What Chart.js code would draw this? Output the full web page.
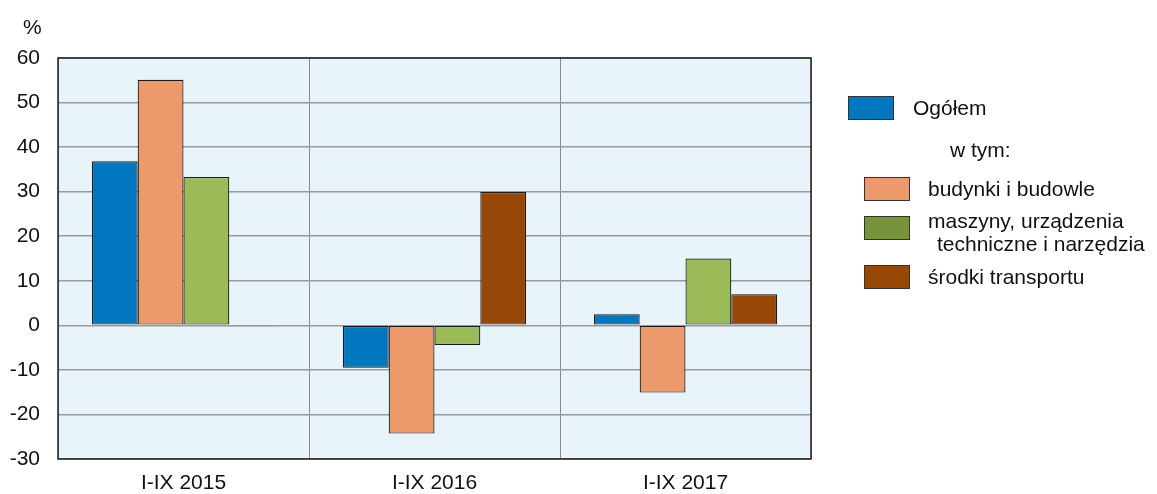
<!DOCTYPE html>
<html>
<head>
<meta charset="utf-8">
<script src="https://cdn.jsdelivr.net/npm/chart.js@4/dist/chart.umd.min.js"></script>
<style>
  html, body { margin: 0; padding: 0; background: #fff; }
  #wrap { width: 1157px; height: 494px; position: relative; }
</style>
</head>
<body>
<div id="wrap"><canvas id="chartInwest"></canvas></div>
<script>
// dane z wykresu
const okresy = ['I-IX 2015', 'I-IX 2016', 'I-IX 2017'];
const ogolem = [36.8, -9.5, 2.5];
const budynki = [55.1, -24.3, -15.1];
const maszyny = [33.3, -4.4, 15.0];
const srodki = [-0.2, 29.9, 7.0];
const yTicks = [-30, -20, -10, 0, 10, 20, 30, 40, 50, 60];

const nazwy = ['Ogółem', 'budynki i budowle', 'maszyny, urządzenia techniczne i narzędzia', 'środki transportu'];
const kolory = ['#0077BE', '#EC9A6B', '#9BBB59', '#974806'];
const koloryLegendy = ['#0077BE', '#EC9A6B', '#77933C', '#974806'];

const FONT = '"Liberation Sans", Arial, sans-serif';
const FSIZE = 21;

const tloPlugin = {
    id: 'tlo',
    beforeDraw(chart) {
        const { ctx, chartArea: a } = chart;
        ctx.save();
        ctx.fillStyle = '#E8F3FA';
        ctx.fillRect(a.left, a.top, a.right - a.left, a.bottom - a.top);
        ctx.restore();
    },
    afterDraw(chart) {
        const { ctx, chartArea: a } = chart;
        ctx.save();
        ctx.strokeStyle = '#222';
        ctx.lineWidth = 1.5;
        ctx.strokeRect(a.left, a.top, a.right - a.left, a.bottom - a.top);

        ctx.fillStyle = '#111';
        ctx.font = FSIZE + 'px ' + FONT;
        ctx.textBaseline = 'middle';
        ctx.textAlign = 'left';
        ctx.fillText('%', 23, 28);

        // legenda
        const box = (x, y, c) => {
            ctx.fillStyle = c;
            ctx.fillRect(x, y, 45, 23);
            ctx.strokeStyle = '#333';
            ctx.lineWidth = 1;
            ctx.strokeRect(x + 0.5, y + 0.5, 45, 23);
        };
        box(848, 96, koloryLegendy[0]);
        box(864, 177, koloryLegendy[1]);
        box(864, 216, koloryLegendy[2]);
        box(864, 265, koloryLegendy[3]);

        ctx.fillStyle = '#111';
        ctx.fillText(nazwy[0], 913, 109);
        ctx.fillText('w tym:', 950, 151);
        ctx.fillText(nazwy[1], 928, 190);
        ctx.fillText('maszyny, urządzenia', 928, 222);
        ctx.fillText('techniczne i narzędzia', 937, 245);
        ctx.fillText(nazwy[3], 928, 278);
        ctx.restore();
    }
};

const seria = [ogolem, budynki, maszyny, srodki];

new Chart(document.getElementById('chartInwest'), {
    type: 'bar',
    data: {
        labels: okresy,
        datasets: seria.map((d, i) => ({
            label: nazwy[i],
            data: d,
            backgroundColor: kolory[i],
            borderColor: '#1a1a1a',
            borderWidth: 1.2,
            borderSkipped: false,
            categoryPercentage: 0.73,
            barPercentage: 1
        }))
    },
    options: {
        responsive: true,
        maintainAspectRatio: false,
        animation: false,
        layout: { padding: { top: 58, right: 346, left: 0, bottom: 0 } },
        plugins: {
            legend: { display: false },
            tooltip: { enabled: false }
        },
        scales: {
            x: {
                grid: { color: '#8a8a8a', lineWidth: 1, drawTicks: false },
                border: { display: false },
                ticks: {
                    color: '#111',
                    font: { family: FONT, size: FSIZE },
                    padding: 12
                },
                afterFit(scale) { scale.height = 35; }
            },
            y: {
                min: -30,
                max: 60,
                afterBuildTicks(scale) { scale.ticks = yTicks.map(v => ({ value: v })); },
                grid: { color: '#9a9a9a', lineWidth: 1.5, drawTicks: false },
                border: { display: false },
                ticks: {
                    color: '#111',
                    font: { family: FONT, size: FSIZE },
                    padding: 18
                },
                afterFit(scale) { scale.width = 58; }
            }
        }
    },
    plugins: [tloPlugin]
});
</script>
</body>
</html>
